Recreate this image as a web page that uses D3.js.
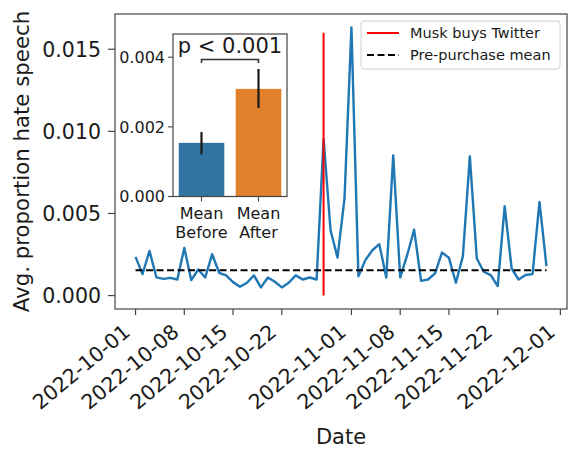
<!DOCTYPE html>
<html>
<head>
<meta charset="utf-8">
<script src="https://cdn.jsdelivr.net/npm/d3@7"></script>
<style>
  html, body { margin: 0; padding: 0; background: #fff; }
  svg { display: block; font-family: "DejaVu Sans", sans-serif; }
</style>
</head>
<body>
<svg id="chart" width="570" height="450"></svg>
<script>
// ---------------- data ----------------
const dates = [
  "2022-10-01","2022-10-02","2022-10-03","2022-10-04","2022-10-05","2022-10-06","2022-10-07","2022-10-08","2022-10-09","2022-10-10",
  "2022-10-11","2022-10-12","2022-10-13","2022-10-14","2022-10-15","2022-10-16","2022-10-17","2022-10-18","2022-10-19","2022-10-20",
  "2022-10-21","2022-10-22","2022-10-23","2022-10-24","2022-10-25","2022-10-26","2022-10-27","2022-10-28","2022-10-29","2022-10-30",
  "2022-10-31","2022-11-01","2022-11-02","2022-11-03","2022-11-04","2022-11-05","2022-11-06","2022-11-07","2022-11-08","2022-11-09",
  "2022-11-10","2022-11-11","2022-11-12","2022-11-13","2022-11-14","2022-11-15","2022-11-16","2022-11-17","2022-11-18","2022-11-19",
  "2022-11-20","2022-11-21","2022-11-22","2022-11-23","2022-11-24","2022-11-25","2022-11-26","2022-11-27","2022-11-28","2022-11-29"
];
const hateValues = [
  0.00236,0.00131,0.00272,0.00111,0.00102,0.00108,0.00098,0.00290,0.00094,0.00159,
  0.00110,0.00252,0.00139,0.00123,0.00082,0.00054,0.00078,0.00123,0.00050,0.00110,
  0.00084,0.00050,0.00078,0.00123,0.00098,0.00110,0.00098,0.00955,0.00398,0.00232,
  0.00590,0.01633,0.00118,0.00216,0.00276,0.00313,0.00110,0.00854,0.00110,0.00246,
  0.00402,0.00090,0.00098,0.00135,0.00262,0.00230,0.00078,0.00240,0.00848,0.00226,
  0.00145,0.00125,0.00058,0.00544,0.00165,0.00098,0.00125,0.00131,0.00570,0.00179
];
const purchaseDate = "2022-10-28";
const purchaseLineTop = 0.016;
const prePurchaseMean = 0.00155;
const xTickLabels = ["2022-10-01","2022-10-08","2022-10-15","2022-10-22","2022-11-01","2022-11-08","2022-11-15","2022-11-22","2022-12-01"];
const yTickValues = [0, 0.005, 0.010, 0.015];
const legendLabels = ["Musk buys Twitter", "Pre-purchase mean"];

// inset
const insetCategories = ["Mean\nBefore", "Mean\nAfter"];
const insetMeans = [0.00154, 0.00309];
const insetErrLow = [0.00121, 0.00254];
const insetErrHigh = [0.00185, 0.00366];
const insetTicks = [0, 0.002, 0.004];
const insetPText = "p < 0.001";

// ---------------- drawing ----------------
const svg = d3.select("#chart");
const parse = d3.utcParse("%Y-%m-%d");
const D = dates.map(parse);

const L = 115, R = 567, T = 14, B = 309;
const dMin = D[0], dMax = D[D.length - 1];
const span = dMax - dMin;
const x = d3.scaleUtc()
  .domain([new Date(+dMin - 0.05 * span), new Date(+dMax + 0.05 * span)])
  .range([L, R]);
const yLo = 0, yHi = d3.max(hateValues.concat([purchaseLineTop]));
const yPad = 0.05 * (yHi - yLo);
const y = d3.scaleLinear().domain([yLo - yPad, yHi + yPad]).range([B, T]);

const spineColor = "#444";
const textColor = "#1a1a1a";

// line
const line = d3.line().x((d, i) => x(D[i])).y(d => y(d));
svg.append("path").datum(hateValues)
  .attr("d", line).attr("fill", "none")
  .attr("stroke", "#1f77b4").attr("stroke-width", 2.4)
  .attr("stroke-linejoin", "round");

// purchase vline
svg.append("line")
  .attr("x1", x(parse(purchaseDate))).attr("x2", x(parse(purchaseDate)))
  .attr("y1", y(0)).attr("y2", y(purchaseLineTop))
  .attr("stroke", "#ff0000").attr("stroke-width", 2);

// pre-purchase mean dashed
svg.append("line")
  .attr("x1", x(dMin)).attr("x2", x(dMax))
  .attr("y1", y(prePurchaseMean)).attr("y2", y(prePurchaseMean))
  .attr("stroke", "#000").attr("stroke-width", 2)
  .attr("stroke-dasharray", "7,3.5");

// spines
svg.append("rect").attr("x", L).attr("y", T).attr("width", R - L).attr("height", B - T)
  .attr("fill", "none").attr("stroke", spineColor).attr("stroke-width", 1.2);

// y axis
const yAxis = svg.append("g");
yTickValues.forEach(v => {
  yAxis.append("line").attr("x1", L - 7).attr("x2", L).attr("y1", y(v)).attr("y2", y(v))
    .attr("stroke", spineColor).attr("stroke-width", 1.2);
  yAxis.append("text").attr("x", L - 14).attr("y", y(v)).attr("dy", "0.36em")
    .attr("text-anchor", "end").attr("font-size", 20.5).attr("fill", textColor)
    .text(d3.format(".3f")(v));
});
svg.append("text")
  .attr("transform", `translate(29,${(T + B) / 2}) rotate(-90)`)
  .attr("text-anchor", "middle").attr("font-size", 21.3).attr("fill", textColor)
  .text("Avg. proportion hate speech");

// x axis
const xAxis = svg.append("g");
xTickLabels.forEach(s => {
  const xx = x(parse(s));
  xAxis.append("line").attr("x1", xx).attr("x2", xx).attr("y1", B).attr("y2", B + 6)
    .attr("stroke", spineColor).attr("stroke-width", 1.2);
  xAxis.append("text")
    .attr("transform", `translate(${xx - 4},${B + 25}) rotate(-40)`)
    .attr("text-anchor", "end").attr("font-size", 20.5).attr("fill", textColor)
    .text(s);
});
svg.append("text").attr("x", (L + R) / 2).attr("y", 444)
  .attr("text-anchor", "middle").attr("font-size", 21).attr("fill", textColor)
  .text("Date");

// legend
const lg = svg.append("g");
lg.append("rect").attr("x", 361).attr("y", 21).attr("width", 199).attr("height", 48)
  .attr("rx", 3).attr("fill", "#fff").attr("fill-opacity", 0.85)
  .attr("stroke", "#d0d0d0").attr("stroke-width", 1);
lg.append("line").attr("x1", 367).attr("x2", 399).attr("y1", 33).attr("y2", 33)
  .attr("stroke", "#ff0000").attr("stroke-width", 2);
lg.append("line").attr("x1", 367).attr("x2", 399).attr("y1", 55).attr("y2", 55)
  .attr("stroke", "#000").attr("stroke-width", 2).attr("stroke-dasharray", "7,3.5");
lg.append("text").attr("x", 410).attr("y", 33).attr("dy", "0.36em")
  .attr("font-size", 14.5).attr("fill", textColor).text(legendLabels[0]);
lg.append("text").attr("x", 410).attr("y", 55).attr("dy", "0.36em")
  .attr("font-size", 14.5).attr("fill", textColor).text(legendLabels[1]);

// ---------------- inset ----------------
const iL = 173, iR = 287, iT = 34, iB = 196.5;
const ix = d3.scaleBand().domain(insetCategories).range([iL, iR])
  .paddingInner(0.2).paddingOuter(0.1);
const iy = d3.scaleLinear().domain([0, 0.004666]).range([iB, iT]);
const ins = svg.append("g");
ins.append("rect").attr("x", iL).attr("y", iT).attr("width", iR - iL).attr("height", iB - iT)
  .attr("fill", "#fff");
const barColors = ["#3274a1", "#e1812c"];
insetCategories.forEach((c, i) => {
  ins.append("rect").attr("x", ix(c)).attr("width", ix.bandwidth())
    .attr("y", iy(insetMeans[i])).attr("height", iy(0) - iy(insetMeans[i]))
    .attr("fill", barColors[i]);
  const cx = ix(c) + ix.bandwidth() / 2;
  ins.append("line").attr("x1", cx).attr("x2", cx)
    .attr("y1", iy(insetErrLow[i])).attr("y2", iy(insetErrHigh[i]))
    .attr("stroke", "#1a1a1a").attr("stroke-width", 2.2);
  // tick + label
  ins.append("line").attr("x1", cx).attr("x2", cx).attr("y1", iB).attr("y2", iB + 5)
    .attr("stroke", spineColor).attr("stroke-width", 1.1);
  const lines = c.split("\n");
  lines.forEach((t, k) => {
    ins.append("text").attr("x", cx).attr("y", 213.5 + k * 18.5).attr("dy", "0.36em")
      .attr("text-anchor", "middle").attr("font-size", 16).attr("fill", textColor).text(t);
  });
});
insetTicks.forEach(v => {
  ins.append("line").attr("x1", iL - 5).attr("x2", iL).attr("y1", iy(v)).attr("y2", iy(v))
    .attr("stroke", spineColor).attr("stroke-width", 1.1);
  ins.append("text").attr("x", iL - 8).attr("y", iy(v)).attr("dy", "0.36em")
    .attr("text-anchor", "end").attr("font-size", 16).attr("fill", textColor)
    .text(d3.format(".3f")(v));
});
ins.append("rect").attr("x", iL).attr("y", iT).attr("width", iR - iL).attr("height", iB - iT)
  .attr("fill", "none").attr("stroke", spineColor).attr("stroke-width", 1.2);
// significance bracket
const bx1 = ix(insetCategories[0]) + ix.bandwidth() / 2;
const bx2 = ix(insetCategories[1]) + ix.bandwidth() / 2;
ins.append("path")
  .attr("d", `M${bx1},63 L${bx1},59.5 L${bx2},59.5 L${bx2},63`)
  .attr("fill", "none").attr("stroke", "#333").attr("stroke-width", 1.6);
ins.append("text").attr("x", (bx1 + bx2) / 2).attr("y", 53)
  .attr("text-anchor", "middle").attr("font-size", 21).attr("fill", textColor)
  .text(insetPText);
</script>
</body>
</html>
